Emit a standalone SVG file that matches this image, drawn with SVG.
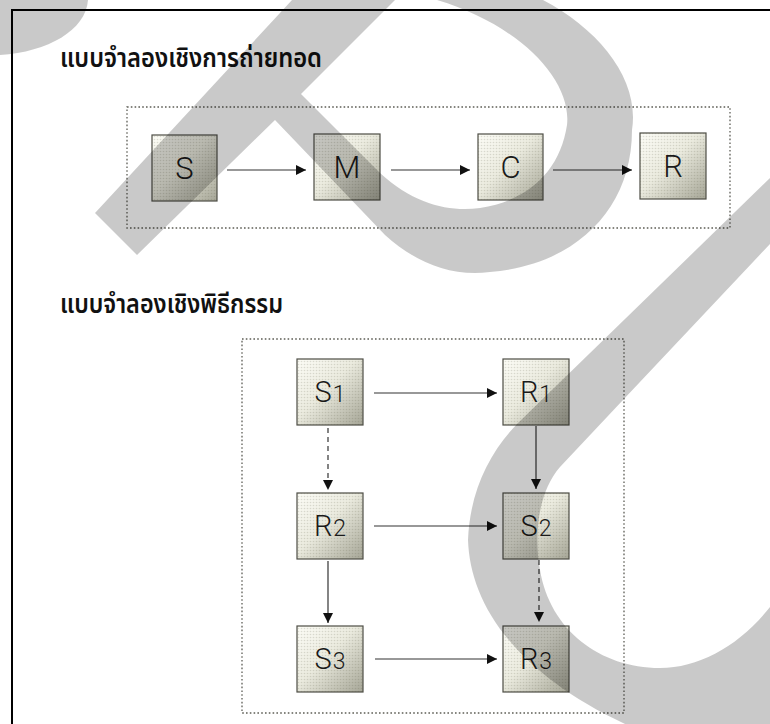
<svg xmlns="http://www.w3.org/2000/svg" width="770" height="724" viewBox="0 0 770 724">
<defs>
<linearGradient id="boxGrad" x1="0" y1="0" x2="1" y2="1">
<stop offset="0" stop-color="#fcfcf6"/>
<stop offset="0.45" stop-color="#ebebdf"/>
<stop offset="1" stop-color="#a6a697"/>
</linearGradient>
<pattern id="dots" width="3" height="3" patternUnits="userSpaceOnUse">
<circle cx="1.5" cy="1.5" r="0.8" fill="#55553f" fill-opacity="0.18"/>
</pattern>
<marker id="ah" viewBox="0 0 10 10" refX="10" refY="5" markerWidth="10" markerHeight="10" markerUnits="userSpaceOnUse" orient="auto">
<path d="M0,0 L10,5 L0,10 Z" fill="#111"/>
</marker>
</defs>
<style>
.box{fill:url(#boxGrad);stroke:#4d4d45;stroke-width:1.2}
.tex{fill:url(#dots);stroke:none}
.lbl{font-family:Roboto,'Liberation Sans',sans-serif;font-weight:300;fill:#1a1a1a;text-anchor:middle}
.big{font-size:31px}
.mid{font-size:29px}
.sub{font-size:23px}
.title{font-family:'Noto Sans Thai','Noto Sans Thai UI','Noto Sans','DejaVu Sans',sans-serif;font-size:27px;font-weight:600;fill:#111}
.conn{stroke:#333;stroke-width:1.2;fill:none;marker-end:url(#ah)}
.dash{stroke-dasharray:5 4}
.group{fill:none;stroke:#5e5e56;stroke-width:1.3;stroke-dasharray:1.6 2.2}
.frame{fill:none;stroke:#000;stroke-width:2}
.wm{fill:#000;fill-opacity:0.21;stroke:none}
</style>
<rect x="0" y="0" width="770" height="724" fill="#ffffff"/>
<path class="frame" d="M12,724 V10 H770"/>

<g id="title-transmission">
<text class="title" x="60" y="67" textLength="262" lengthAdjust="spacingAndGlyphs">แบบจำลองเชิงการถ่ายทอด</text>
</g>
<g id="title-ritual">
<text class="title" x="60" y="313" textLength="223" lengthAdjust="spacingAndGlyphs">แบบจำลองเชิงพิธีกรรม</text>
</g>

<g id="frames">
<rect class="group" x="127" y="107" width="603" height="121"/>
<rect class="group" x="242" y="339" width="382" height="374"/>
</g>

<g id="node-S">
<rect class="box" x="152" y="135" width="65" height="66"/><rect class="tex" x="152" y="135" width="65" height="66"/>
<text class="lbl big" x="184.5" y="179">S</text>
</g>
<g id="node-M">
<rect class="box" x="314" y="134" width="66" height="66"/><rect class="tex" x="314" y="134" width="66" height="66"/>
<text class="lbl big" x="347" y="178">M</text>
</g>
<g id="node-C">
<rect class="box" x="478" y="134" width="65" height="66"/><rect class="tex" x="478" y="134" width="65" height="66"/>
<text class="lbl big" x="510.5" y="178">C</text>
</g>
<g id="node-R">
<rect class="box" x="640" y="133" width="66" height="66"/><rect class="tex" x="640" y="133" width="66" height="66"/>
<text class="lbl big" x="673" y="177">R</text>
</g>

<g id="node-S1">
<rect class="box" x="297" y="359" width="66" height="66"/><rect class="tex" x="297" y="359" width="66" height="66"/>
<text class="lbl mid" x="330" y="402">S<tspan class="sub" dx="1">1</tspan></text>
</g>
<g id="node-R1">
<rect class="box" x="503" y="359" width="66" height="66"/><rect class="tex" x="503" y="359" width="66" height="66"/>
<text class="lbl mid" x="536" y="402">R<tspan class="sub" dx="1">1</tspan></text>
</g>
<g id="node-R2">
<rect class="box" x="297" y="493" width="66" height="66"/><rect class="tex" x="297" y="493" width="66" height="66"/>
<text class="lbl mid" x="330" y="536">R<tspan class="sub" dx="1">2</tspan></text>
</g>
<g id="node-S2">
<rect class="box" x="503" y="493" width="66" height="66"/><rect class="tex" x="503" y="493" width="66" height="66"/>
<text class="lbl mid" x="536" y="536">S<tspan class="sub" dx="1">2</tspan></text>
</g>
<g id="node-S3">
<rect class="box" x="297" y="626" width="66" height="66"/><rect class="tex" x="297" y="626" width="66" height="66"/>
<text class="lbl mid" x="330" y="669">S<tspan class="sub" dx="1">3</tspan></text>
</g>
<g id="node-R3">
<rect class="box" x="503" y="626" width="66" height="66"/><rect class="tex" x="503" y="626" width="66" height="66"/>
<text class="lbl mid" x="536" y="669">R<tspan class="sub" dx="1">3</tspan></text>
</g>

<g id="connectors">
<line class="conn" x1="227" y1="170" x2="306" y2="170"/>
<line class="conn" x1="391" y1="170" x2="470" y2="170"/>
<line class="conn" x1="553" y1="170" x2="632" y2="170"/>
<line class="conn" x1="374" y1="393" x2="497" y2="393"/>
<line class="conn" x1="374" y1="526" x2="497" y2="526"/>
<line class="conn" x1="375" y1="659" x2="497" y2="659"/>
<line class="conn dash" x1="328" y1="428" x2="328" y2="490"/>
<line class="conn" x1="536" y1="426" x2="536" y2="489"/>
<line class="conn" x1="328" y1="561" x2="328" y2="623"/>
<line class="conn dash" x1="539" y1="560" x2="539" y2="622"/>
</g>

<g id="watermark">
<path class="wm" d="M0,0 H88 C86,30 48,52 0,55 Z"/>
<path class="wm" d="M95,213 L292,0 L395,0 L301,94 L380,173 C415,205 450,212 480,208 C530,200 560,170 567,125 C572,80 520,25 437,0 L543,0 C600,30 640,80 632,130 C632,210 575,265 490,272 C450,277 415,262 385,235 L275,120 L137,255 Z"/>
<path class="wm" d="M770,178 L517,424 C490,452 470,490 468,540 C470,600 510,670 625,724 L770,724 L770,607 C740,645 700,668 660,668 C600,668 550,630 540,570 C533,530 540,490 560,467 L623,400 L770,244 Z"/>
</g>
</svg>
